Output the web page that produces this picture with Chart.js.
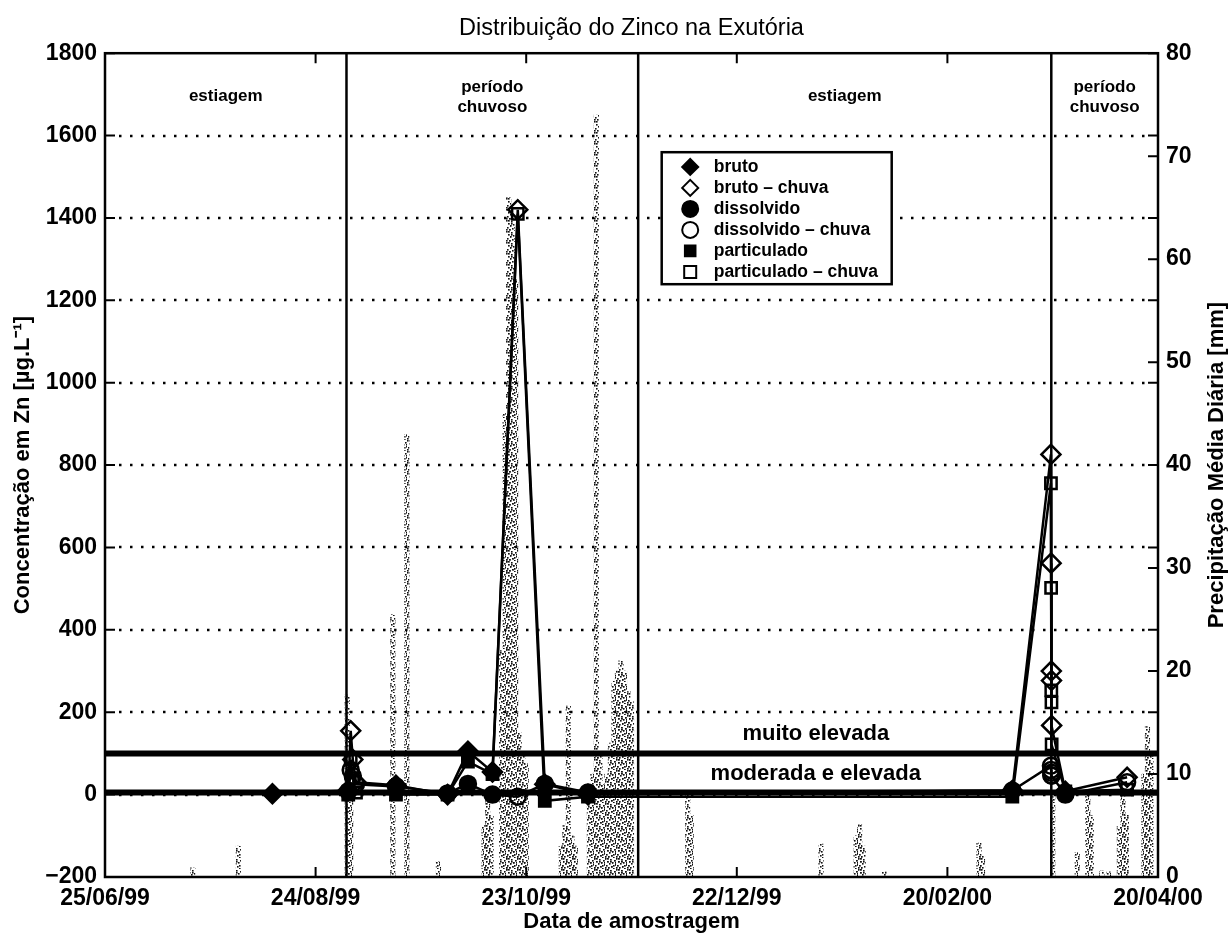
<!DOCTYPE html>
<html>
<head>
<meta charset="utf-8">
<script src="https://cdn.jsdelivr.net/npm/chart.js@4.4.0/dist/chart.umd.min.js"></script>
<style>
  html, body { margin: 0; padding: 0; background: #fff; }
</style>
</head>
<body>
<canvas id="chart" width="1229" height="936"></canvas>
<script>
// x values are days counted from 25/06/99
const tickDays = [0, 60, 120, 180, 240, 300];
const tickLabels = ['25/06/99', '24/08/99', '23/10/99', '22/12/99', '20/02/00', '20/04/00'];

const periodBounds = [0, 68.8, 151.9, 269.6, 300];
const periodNames = [['estiagem'], ['período', 'chuvoso'], ['estiagem'], ['período', 'chuvoso']];

const limitValues = [100, 5];
const limitNames = ['muito elevada', 'moderada e elevada'];

// zinc samples (µg/L); rain = 1 for samples taken during rain
const sampleDays = [47.7, 69.3, 70.0, 70.6, 71.5, 82.9, 97.6, 103.4, 110.4, 117.6, 125.3, 137.6,
                    258.5, 269.5, 269.55, 269.6, 269.65, 269.7, 273.6, 291.2];
const sampleRain = [0, 0, 1, 1, 1, 0, 0, 0, 0, 1, 0, 0, 0, 1, 1, 1, 1, 1, 0, 1];
const bruto       = [2, 10, 155, 85, 30, 23, 0, 105, 55, 1420, 25, 0, 10, 826, 562, 300, 277, 168, 8, 42];
const dissolvido  = [null, 8, 60, 45, 25, 20, 3, 26, 0, -5, 26, 5, 10, 70, 60, 47, 53, 46, 0, 30];
const particulado = [null, 0, 85, 40, 5, 0, 0, 80, 50, 1410, -15, -5, -5, 756, 502, 253, 224, 122, 8, 12];

// daily precipitation (mm)
const rainDays = [25, 38, 69, 70, 82, 86, 95, 108, 109, 110, 113, 114, 115, 116, 117, 118, 119, 120,
                  130, 131, 132, 133, 134, 138, 139, 140, 141, 142, 143, 144, 145, 146, 147, 148, 149, 150,
                  166, 167, 204, 214, 215, 216, 222, 249, 250, 270, 277, 280, 281, 284, 286, 289, 290, 291,
                  296, 297, 298];
const rainMm = [0.9, 3.0, 17.7, 12, 25.5, 43, 1.5, 5, 7.5, 6, 22, 45, 66, 64, 58, 14, 12, 11,
                3, 5, 16.6, 4, 3, 8, 10, 74, 12, 9, 10, 13, 19, 20, 21, 20, 18, 17,
                8, 6, 3.2, 4, 5.1, 3, 0.5, 3.3, 2, 7.8, 2.4, 8.5, 6, 0.6, 0.5, 5, 7.8, 6,
                10, 14.6, 12];

const FONT = "'Liberation Sans', Arial, Helvetica, sans-serif";
Chart.defaults.font.family = FONT;
Chart.defaults.color = '#000';

const fractions = [
  { name: 'bruto', values: bruto, style: 'rectRot', radius: 9.5 },
  { name: 'dissolvido', values: dissolvido, style: 'circle', radius: 8 },
  { name: 'particulado', values: particulado, style: 'rect', radius: 8 }
];

const ctx = document.getElementById('chart').getContext('2d');

// stipple texture for the rain bars (fixed dot layout)
function stipple() {
  const c = document.createElement('canvas');
  c.width = 11; c.height = 11;
  const g = c.getContext('2d');
  g.fillStyle = '#111';
  [[0, 0], [5, 1], [9, 2], [2, 3], [7, 4], [4, 5], [10, 6], [1, 7], [6, 8], [3, 9], [8, 10],
   [2, 0], [8, 7], [5, 3], [0, 9], [10, 4]]
    .forEach(([x, y]) => g.fillRect(x, y, 1.6, 1.6));
  return ctx.createPattern(c, 'repeat');
}

const fmt = v => String(v).replace('-', '\u2212');

const datasets = [];
fractions.forEach((f, k) => {
  datasets.push({
    type: 'line',
    label: f.name,
    data: sampleDays.map((d, i) => ({ x: d, y: f.values[i] })),
    borderColor: '#000',
    borderWidth: 2.5,
    tension: 0,
    spanGaps: true,
    pointStyle: f.style,
    pointRadius: f.radius,
    pointBorderColor: '#000',
    pointBorderWidth: 2.5,
    pointBackgroundColor: sampleRain.map(r => r ? 'rgba(0,0,0,0)' : '#000'),
    yAxisID: 'y',
    order: k
  });
});
limitValues.forEach(v => {
  datasets.push({
    type: 'line',
    data: [{ x: tickDays[0], y: v }, { x: tickDays[tickDays.length - 1], y: v }],
    borderColor: '#000', borderWidth: 6, pointRadius: 0, yAxisID: 'y', order: 5
  });
});
periodBounds.slice(1, -1).forEach(d => {
  datasets.push({
    type: 'line',
    data: [{ x: d, y: -200 }, { x: d, y: 1800 }],
    borderColor: '#000', borderWidth: 2.5, pointRadius: 0, yAxisID: 'y', order: 5
  });
});
datasets.push({
  type: 'bar',
  data: rainDays.map((d, i) => ({ x: d, y: rainMm[i] })),
  backgroundColor: stipple(),
  borderWidth: 0,
  barThickness: 4.5,
  yAxisID: 'y1',
  order: 10
});

const frame = {
  id: 'frame',
  beforeDatasetsDraw(chart) {
    const { ctx, chartArea: a, scales: { y } } = chart;
    ctx.save();
    ctx.strokeStyle = '#000';
    ctx.lineWidth = 2.5;
    ctx.setLineDash([2.5, 8.5]);
    y.ticks.forEach(t => {
      if (t.value <= y.min || t.value >= y.max) return;
      const py = Math.round(y.getPixelForValue(t.value));
      ctx.beginPath();
      ctx.moveTo(a.left + 14, py);
      ctx.lineTo(a.right - 10, py);
      ctx.stroke();
    });
    ctx.restore();
  },
  afterDatasetsDraw(chart) {
    const { ctx, chartArea: a, scales: { x, y, y1 } } = chart;
    ctx.save();
    ctx.strokeStyle = '#000';
    ctx.lineWidth = 2;
    ctx.beginPath();
    x.ticks.forEach(t => {
      const px = x.getPixelForValue(t.value);
      ctx.moveTo(px, a.bottom); ctx.lineTo(px, a.bottom - 10);
      ctx.moveTo(px, a.top); ctx.lineTo(px, a.top + 10);
    });
    y.ticks.forEach(t => {
      const py = y.getPixelForValue(t.value);
      ctx.moveTo(a.left, py); ctx.lineTo(a.left + 10, py);
      ctx.moveTo(a.right, py); ctx.lineTo(a.right - 10, py);
    });
    y1.ticks.forEach(t => {
      const py = y1.getPixelForValue(t.value);
      ctx.moveTo(a.right, py); ctx.lineTo(a.right - 10, py);
    });
    ctx.stroke();
    ctx.lineWidth = 2.5;
    ctx.strokeRect(a.left, a.top, a.right - a.left, a.bottom - a.top);
    ctx.restore();
  }
};

function marker(ctx, style, filled, cx, cy, r) {
  ctx.beginPath();
  if (style === 'rectRot') {
    ctx.moveTo(cx, cy - r); ctx.lineTo(cx + r, cy); ctx.lineTo(cx, cy + r); ctx.lineTo(cx - r, cy); ctx.closePath();
  } else if (style === 'circle') {
    ctx.arc(cx, cy, r, 0, Math.PI * 2);
  } else {
    const h = filled ? r * 0.66 : r * 0.75;
    ctx.rect(cx - h, cy - h, 2 * h, 2 * h);
  }
  if (filled) ctx.fill();
  ctx.stroke();
}

const texts = {
  id: 'texts',
  afterDraw(chart) {
    const { ctx, chartArea: a, scales: { x, y } } = chart;
    ctx.save();
    ctx.fillStyle = '#000';
    ctx.textAlign = 'center';
    ctx.textBaseline = 'middle';

    // period names
    ctx.font = 'bold 17px ' + FONT;
    periodNames.forEach((lines, i) => {
      const cx = (x.getPixelForValue(periodBounds[i]) + x.getPixelForValue(periodBounds[i + 1])) / 2;
      const y0 = a.top + (lines.length === 1 ? 43 : 34);
      lines.forEach((s, j) => ctx.fillText(s, cx, y0 + j * 20));
    });

    // limit names
    ctx.font = 'bold 22px ' + FONT;
    const labelAt = [[202.5, 147], [202.5, 50]];
    limitNames.forEach((s, i) => {
      ctx.fillText(s, x.getPixelForValue(labelAt[i][0]), y.getPixelForValue(labelAt[i][1]));
    });

    // right axis title
    ctx.save();
    ctx.translate(1217, (a.top + a.bottom) / 2);
    ctx.rotate(-Math.PI / 2);
    ctx.font = 'bold 22px ' + FONT;
    ctx.fillText('Precipitação Média Diária [mm]', 0, 0);
    ctx.restore();

    // legend
    const lx = a.left + 556.7, ly = a.top + 99, lw = 230, lh = 132;
    ctx.fillStyle = '#fff';
    ctx.fillRect(lx, ly, lw, lh);
    ctx.strokeStyle = '#000';
    ctx.lineWidth = 2.5;
    ctx.strokeRect(lx, ly, lw, lh);
    ctx.fillStyle = '#000';
    ctx.lineWidth = 2;
    ctx.textAlign = 'left';
    ctx.font = 'bold 17.5px ' + FONT;
    let row = 0;
    fractions.forEach(f => {
      [true, false].forEach(filled => {
        const cy = ly + 14.7 + row * 21;
        marker(ctx, f.style, filled, lx + 28.5, cy, 8);
        ctx.fillText(filled ? f.name : f.name + ' \u2013 chuva', lx + 52, cy);
        row++;
      });
    });
    ctx.restore();
  }
};

new Chart(ctx, {
  type: 'line',
  data: { datasets },
  options: {
    responsive: false,
    devicePixelRatio: 1,
    animation: false,
    events: [],
    layout: { padding: 0 },
    plugins: {
      legend: { display: false },
      tooltip: { enabled: false },
      title: {
        display: true,
        fullSize: false,
        text: 'Distribuição do Zinco na Exutória',
        font: { size: 23.5, weight: 'normal' },
        padding: { top: 14, bottom: 11 },
        color: '#000'
      }
    },
    scales: {
      x: {
        type: 'linear',
        offset: false,
        min: tickDays[0],
        max: tickDays[tickDays.length - 1],
        afterBuildTicks: s => { s.ticks = tickDays.map(v => ({ value: v })); },
        ticks: {
          autoSkip: false, maxRotation: 0, padding: 8,
          font: { size: 23, weight: 'bold' },
          callback: v => tickLabels[tickDays.indexOf(v)] ?? ''
        },
        grid: { display: false, drawTicks: false, offset: false },
        border: { display: false },
        title: { display: true, text: 'Data de amostragem', font: { size: 22, weight: 'bold' }, padding: { top: 0, bottom: 1 } },
        afterFit: s => { s.height = 59; }
      },
      y: {
        position: 'left',
        min: -200, max: 1800,
        ticks: { stepSize: 200, padding: 8, font: { size: 23, weight: 'bold' }, callback: v => fmt(v) },
        grid: { display: false, drawTicks: false },
        border: { display: false },
        title: { display: true, text: 'Concentração em Zn [µg.L⁻¹]', font: { size: 22, weight: 'bold' }, padding: { top: 10, bottom: 0 } },
        afterFit: s => { s.width = 105; }
      },
      y1: {
        position: 'right',
        min: 0, max: 80,
        ticks: { stepSize: 10, padding: 8, font: { size: 23, weight: 'bold' } },
        grid: { display: false, drawTicks: false },
        border: { display: false },
        afterFit: s => { s.width = 71; }
      }
    }
  },
  plugins: [frame, texts]
});
</script>
</body>
</html>
